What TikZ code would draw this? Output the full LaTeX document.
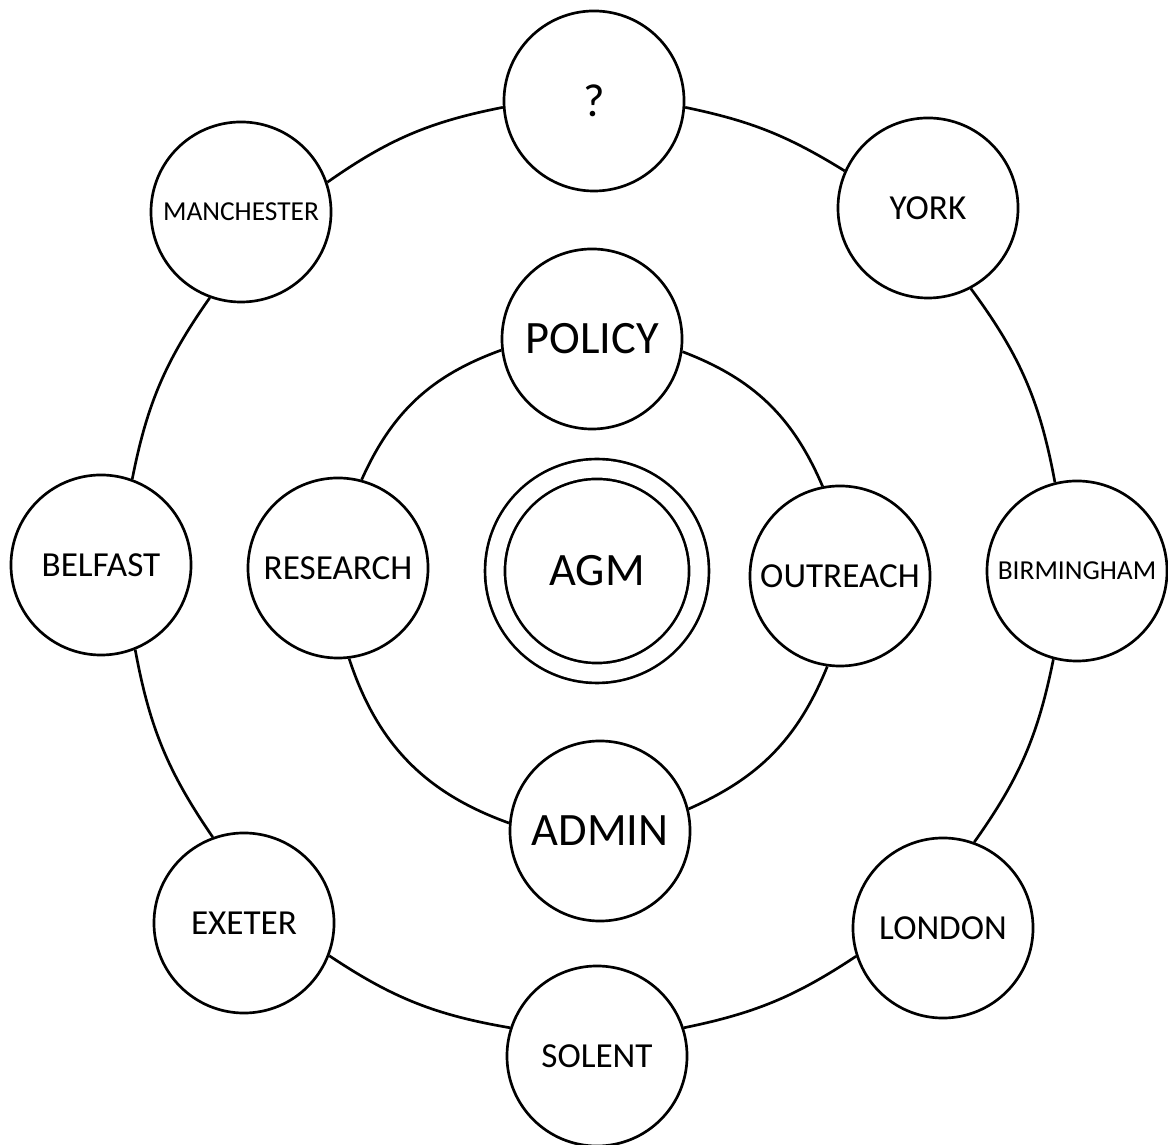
\documentclass[tikz,border=0pt]{standalone}
\usepackage{fontspec}
\setmainfont{Carlito}

\begin{document}
\begin{tikzpicture}[
  x=0.025cm, y=0.025cm,
  every node/.style={circle, draw, line width=1.9pt, fill=white,
    minimum size=4.5cm, inner sep=0pt, font=\fontsize{25}{29}\selectfont},
  big/.style={font=\fontsize{33}{38}\selectfont},
  small/.style={font=\fontsize{19.5}{22}\selectfont},
  agmbox/.style={big, double, double distance=0.43cm, minimum size=5.1cm},
  ring/.style={draw, line width=1.9pt}
]
\useasboundingbox (0,0) rectangle (1168,1144);

% outer ring
\node (unknown)    at (594,1043) [big] {?};
\node (york)       at (928,936)  {YORK};
\node (birmingham) at (1077,573) [small] {BIRMINGHAM};
\node (london)     at (943,216)  {LONDON};
\node (solent)     at (597,88)   {SOLENT};
\node (exeter)     at (244,221)  {EXETER};
\node (belfast)    at (101,579)  {BELFAST};
\node (manchester) at (241,932)  [small] {MANCHESTER};

% inner ring
\node (policy)   at (592,805) [big] {POLICY};
\node (outreach) at (840,568) {OUTREACH};
\node (admin)    at (600,313) [big] {ADMIN};
\node (research) at (338,576) {RESEARCH};

\node (agm) at (597,573) [agmbox] {AGM};

\path[ring]
  (unknown.-4) to[bend left=10] (york.156)
  (york.-62) to[bend left=13] (birmingham.104)
  (birmingham.-105) to[bend left=12] (london.70)
  (london.198) to[bend left=11] (solent.18)
  (solent.162) to[bend left=12] (exeter.-21)
  (exeter.110) to[bend left=12] (belfast.-68)
  (belfast.70) to[bend left=12] (manchester.-110)
  (manchester.19) to[bend left=12] (unknown.184);

\path[ring]
  (policy.-8) to[bend left=23] (outreach.101)
  (outreach.-98) to[bend left=22] (admin.14)
  (admin.175) to[bend left=26] (research.-83)
  (research.75) to[bend left=23] (policy.187);

\end{tikzpicture}
\end{document}
